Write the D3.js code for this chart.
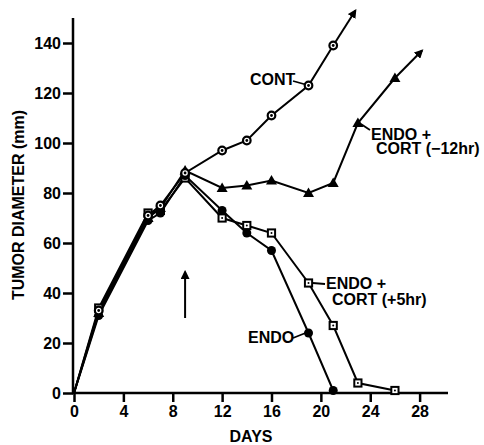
<!DOCTYPE html>
<html>
<head>
<meta charset="utf-8">
<script src="https://cdn.jsdelivr.net/npm/d3@7"></script>
<style>
  body { margin: 0; background: #fff; }
  svg { display: block; font-family: "Liberation Sans", Arial, sans-serif; font-weight: bold; }
  .axis path, .axis line { stroke: #000; stroke-width: 2.5; }
  .axis text { font-size: 16px; font-weight: bold; fill: #000; }
  .series { fill: none; stroke: #000; stroke-width: 2; }
  .lbl { font-size: 16px; fill: #000; }
</style>
</head>
<body>
<svg width="484" height="445"></svg>
<script>
const days = [0, 2, 6, 7, 9, 12, 14, 16, 19, 21, 23, 26]
const xTicks = [0, 4, 8, 12, 16, 20, 24, 28]
const yTicks = [0, 20, 40, 60, 80, 100, 120, 140]

const cont = [0, 33, 71, 75, 88, 97, 101, 111, 123, 139]
const endoCortMinus12 = [0, 32, 70, 74, 89, 82, 83, 85, 80, 84, 108, 126]
const endo = [0, 31, 69, 72, 87, 73, 64, 57, 24, 1]
const endoCortPlus5 = [0, 34, 72, 73, 86, 70, 67, 64, 44, 27, 4, 1]

// where the two growing curves run off the chart
const contTip = [22.8, 153]
const minus12Tip = [28.2, 137]
// treatment arrow, day and its tail/head values
const treatArrow = [9, 30, 48.5]

const pts = vals => vals.map((v, i) => [days[i], v])

const series = [
  { name: 'cont', data: pts(cont), marker: 'ringdot', tip: contTip },
  { name: 'm12', data: pts(endoCortMinus12), marker: 'triangle', tip: minus12Tip },
  { name: 'endo', data: pts(endo), marker: 'dot' },
  { name: 'p5', data: pts(endoCortPlus5), marker: 'square' },
]

const svg = d3.select('svg')
const x = d3.scaleLinear().domain([0, 30.3]).range([74, 448])
const y = d3.scaleLinear().domain([0, 150]).range([393, 18])

svg.append('defs').append('marker')
  .attr('id', 'head')
  .attr('viewBox', '0 0 10 10')
  .attr('refX', 8).attr('refY', 5)
  .attr('markerWidth', 4.5).attr('markerHeight', 4.5)
  .attr('markerUnits', 'strokeWidth')
  .attr('orient', 'auto')
  .append('path').attr('d', 'M0,0L10,5L0,10z').attr('fill', '#000')

// axes
const xAxis = svg.append('g').attr('class', 'axis')
  .attr('transform', `translate(0,${y(0)})`)
  .call(d3.axisBottom(x).tickValues(xTicks).tickSize(9).tickPadding(4).tickSizeOuter(0))
const yAxis = svg.append('g').attr('class', 'axis')
  .attr('transform', `translate(${x(0) - 1},0)`)
  .call(d3.axisLeft(y).tickValues(yTicks).tickSize(10).tickPadding(2).tickSizeOuter(0))
xAxis.select('.domain').attr('d', `M${x(0) - 2},0H${x(30.3)}`)
yAxis.select('.domain').attr('d', `M0,${y(0) + 1}V${y(150)}`)

svg.append('text').attr('class', 'lbl')
  .attr('x', 251).attr('y', 442)
  .attr('text-anchor', 'middle').text('DAYS')
svg.append('text').attr('class', 'lbl')
  .attr('transform', `translate(24,${205}) rotate(-90)`)
  .attr('text-anchor', 'middle').text('TUMOR DIAMETER (mm)')

// lines
const line = d3.line().x(d => x(d[0])).y(d => y(d[1]))
const g = svg.append('g')
series.forEach(s => {
  g.append('path').attr('class', 'series').attr('d', line(s.data))
  if (s.tip) {
    const last = s.data[s.data.length - 1]
    g.append('line').attr('class', 'series')
      .attr('x1', x(last[0])).attr('y1', y(last[1]))
      .attr('x2', x(s.tip[0])).attr('y2', y(s.tip[1]))
      .attr('marker-end', 'url(#head)')
  }
})

// markers (no symbol at the origin; later series drawn first)
series.slice().reverse().forEach(s => {
  const m = g.append('g').selectAll('g').data(s.data.filter(d => d[0] > 0)).join('g')
    .attr('transform', d => `translate(${x(d[0])},${y(d[1])})`)
  if (s.marker === 'ringdot') {
    m.append('circle').attr('r', 3.8).attr('fill', '#fff').attr('stroke', '#000').attr('stroke-width', 2.2)
    m.append('circle').attr('r', 1.4).attr('fill', '#000')
  } else if (s.marker === 'dot') {
    m.append('circle').attr('r', 4.5).attr('fill', '#000')
  } else if (s.marker === 'triangle') {
    m.append('path').attr('d', 'M0,-5.5L5.5,4L-5.5,4Z').attr('fill', '#000')
  } else if (s.marker === 'square') {
    m.append('rect').attr('x', -3.6).attr('y', -3.6).attr('width', 7.2).attr('height', 7.2)
      .attr('fill', '#fff').attr('stroke', '#000').attr('stroke-width', 2)
    m.append('circle').attr('r', 1).attr('fill', '#000')
  }
})

// treatment arrow
svg.append('line').attr('class', 'series')
  .attr('x1', x(treatArrow[0])).attr('y1', y(treatArrow[1]))
  .attr('x2', x(treatArrow[0])).attr('y2', y(treatArrow[2]))
  .attr('marker-end', 'url(#head)')

// labels with leader lines
const labels = [
  { lines: ['CONT'], x: 250, y: 85, gap: 0, lead: [[293, 81], [x(19) - 3, y(123) - 1]] },
  { lines: ['ENDO +', 'CORT (\u221212hr)'], x: 371, y: 140, gap: 13.5, dx: [0, 5], lead: [[370, 130], [x(23) + 3, y(108) + 1]] },
  { lines: ['ENDO +', 'CORT (+5hr)'], x: 326, y: 289, gap: 16, dx: [0, 6], lead: [[325, 284], [x(19) + 4, y(44)]] },
  { lines: ['ENDO'], x: 248, y: 343, gap: 0, lead: [[293, 338], [x(19) - 3, y(24)]] },
]
labels.forEach(l => {
  svg.append('line').attr('stroke', '#000').attr('stroke-width', 1.8)
    .attr('x1', l.lead[0][0]).attr('y1', l.lead[0][1])
    .attr('x2', l.lead[1][0]).attr('y2', l.lead[1][1])
  l.lines.forEach((t, i) => {
    svg.append('text').attr('class', 'lbl')
      .attr('x', l.x + (l.dx ? l.dx[i] : 0)).attr('y', l.y + i * l.gap)
      .text(t)
  })
})
</script>
</body>
</html>
